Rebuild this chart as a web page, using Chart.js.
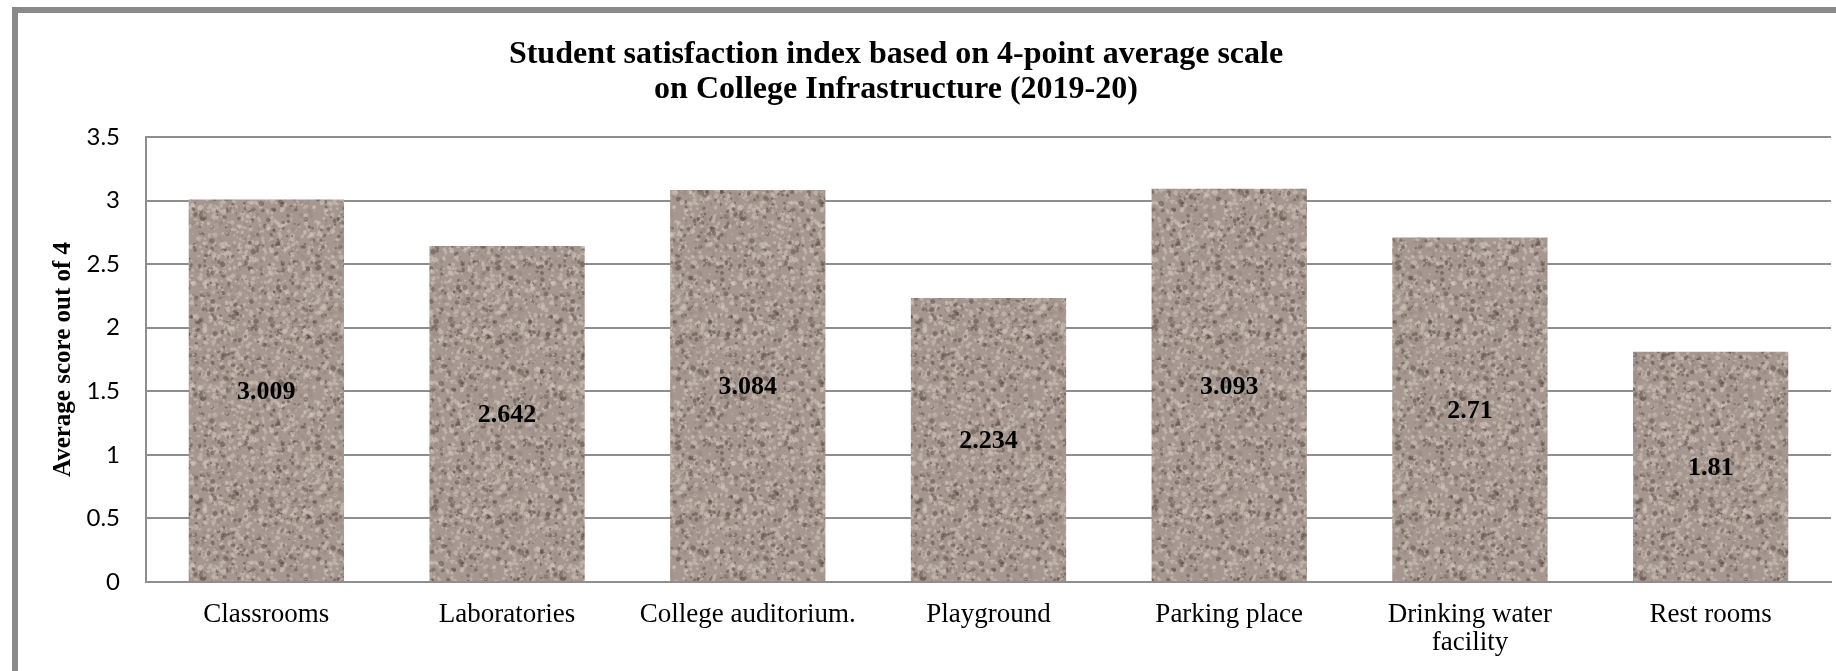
<!DOCTYPE html>
<html>
<head>
<meta charset="utf-8">
<script src="https://cdn.jsdelivr.net/npm/chart.js@4.4.0/dist/chart.umd.min.js"></script>
<style>
  html, body { margin: 0; padding: 0; background: #fff; overflow: hidden; width: 1836px; height: 671px; }
  #frame { position: absolute; left: 12px; top: 7px; width: 1900px; height: 800px; border: 6px solid #8a8a8a; }
  #wrap { position: absolute; left: 0; top: 0; width: 1836px; height: 671px; }
</style>
</head>
<body>
<div id="frame"></div>
<div id="wrap"><canvas id="chart" width="1836" height="671"></canvas></div>
<script>
// données
const categories = ['Classrooms', 'Laboratories', 'College auditorium.', 'Playground', 'Parking place', ['Drinking water', 'facility'], 'Rest rooms'];
const scores = [3.009, 2.642, 3.084, 2.234, 3.093, 2.71, 1.81];
const titleLines = ['Student satisfaction index based on 4-point average scale', 'on College Infrastructure (2019-20)'];
const yAxisTitle = 'Average score out of 4';
const yMax = 3.5;
const yStep = 0.5;

const canvas = document.getElementById('chart');
const ctx = canvas.getContext('2d');

// texture "granit" pour les barres (graine fixe)
function makeTexture() {
  const c = document.createElement('canvas');
  c.width = 180; c.height = 180;
  const g = c.getContext('2d');
  g.fillStyle = '#a69890';
  g.fillRect(0, 0, 180, 180);
  let s = 12345;
  const rnd = () => (s = (s * 16807) % 2147483647) / 2147483647;
  for (let i = 0; i < 2600; i++) {
    const x = rnd() * 180, y = rnd() * 180, r = 0.8 + rnd() * 1.8, t = rnd();
    g.fillStyle = t < 0.22 ? 'rgba(80,66,58,0.45)' : t < 0.7 ? 'rgba(210,200,190,0.5)' : 'rgba(150,136,126,0.5)';
    g.beginPath();
    g.ellipse(x, y, r, r * (0.6 + rnd() * 0.6), rnd() * Math.PI, 0, Math.PI * 2);
    g.fill();
  }
  return ctx.createPattern(c, 'repeat');
}

// titre décalé comme sur l'original
const titlePlugin = {
  id: 'offsetTitle',
  afterDraw(chart, args, opts) {
    const c = chart.ctx;
    c.save();
    c.font = 'bold 32px "Liberation Serif"';
    c.fillStyle = '#000';
    c.textAlign = 'center';
    c.textBaseline = 'alphabetic';
    opts.lines.forEach((line, i) => c.fillText(line, opts.x, opts.y + i * opts.lineHeight));
    c.restore();
  }
};

// valeurs au milieu des barres
const valueLabels = {
  id: 'valueLabels',
  afterDatasetsDraw(chart) {
    const c = chart.ctx;
    const meta = chart.getDatasetMeta(0);
    c.save();
    c.font = 'bold 26px "Liberation Serif"';
    c.fillStyle = '#000';
    c.textAlign = 'center';
    c.textBaseline = 'middle';
    meta.data.forEach((bar, i) => {
      c.fillText(String(scores[i]), bar.x, (bar.y + bar.base) / 2 + 2);
    });
    c.restore();
  }
};

new Chart(ctx, {
  type: 'bar',
  data: {
    labels: categories,
    datasets: [{
      data: scores,
      backgroundColor: makeTexture(),
      borderWidth: 0,
      barPercentage: 0.645,
      categoryPercentage: 1
    }]
  },
  options: {
    responsive: false,
    devicePixelRatio: 1,
    animation: false,
    layout: { padding: { top: 137, right: 5, left: 0, bottom: 0 } },
    scales: {
      x: {
        grid: { display: false, drawTicks: false },
        border: { display: true, color: '#8e8e8e', width: 2 },
        ticks: {
          color: '#000',
          padding: 18,
          maxRotation: 0,
          autoSkip: false,
          font: { family: 'Liberation Serif', size: 27, lineHeight: 1.07 }
        },
        afterFit(scale) { scale.height = 89; }
      },
      y: {
        min: 0,
        max: yMax,
        grid: { color: '#8e8e8e', lineWidth: 2, drawTicks: false },
        border: { display: true, color: '#8e8e8e', width: 2 },
        ticks: {
          stepSize: yStep,
          color: '#000',
          padding: 26,
          font: { family: 'Lato', size: 24 },
          callback: (v) => String(parseFloat(Number(v).toFixed(1)))
        },
        title: {
          display: true,
          text: yAxisTitle,
          color: '#000',
          padding: { top: 49, bottom: 0 },
          font: { family: 'Liberation Serif', size: 25, weight: 'bold' }
        },
        afterFit(scale) { scale.width = 146; }
      }
    },
    plugins: {
      legend: { display: false },
      tooltip: { enabled: false },
      title: { display: false },
      offsetTitle: { lines: titleLines, x: 896, y: 63, lineHeight: 35 }
    }
  },
  plugins: [titlePlugin, valueLabels]
});
</script>
</body>
</html>
